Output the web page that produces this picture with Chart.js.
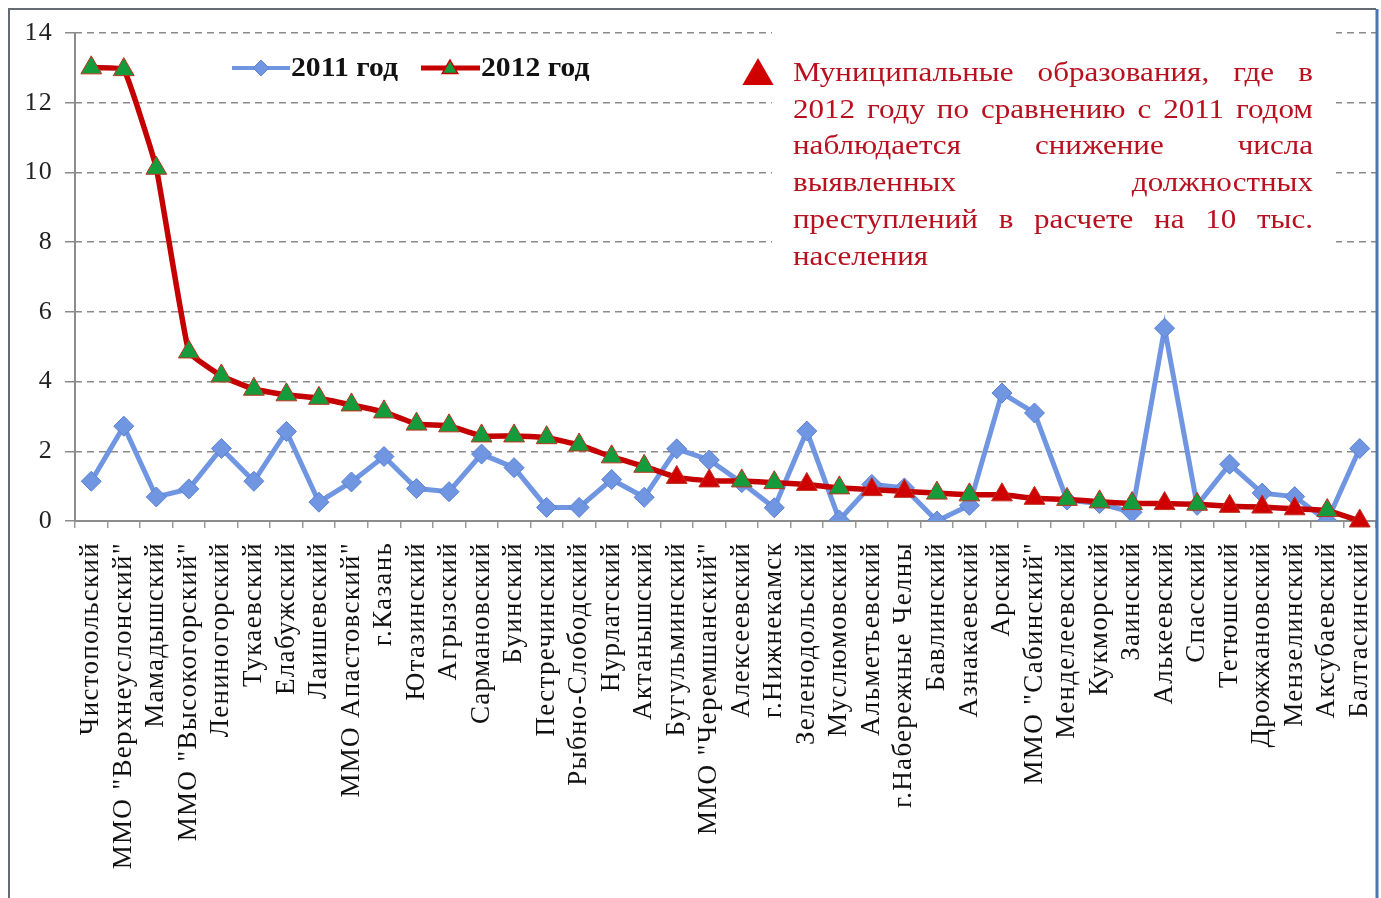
<!DOCTYPE html>
<html>
<head>
<meta charset="utf-8">
<script src="https://cdn.jsdelivr.net/npm/chart.js@4.4.1/dist/chart.umd.min.js"></script>
<style>
  html, body { margin: 0; padding: 0; background: #fff; }
  #wrap { width: 1381px; height: 898px; position: relative; }
</style>
</head>
<body>
<div id="wrap"><canvas id="crimeChart"></canvas></div>
<script>
const districts = [
    'Чистопольский', 'ММО "Верхнеуслонский"', 'Мамадышский', 'ММО "Высокогорский"', 'Лениногорский',
    'Тукаевский', 'Елабужский', 'Лаишевский', 'ММО Апастовский"', 'г.Казань',
    'Ютазинский', 'Агрызский', 'Сармановский', 'Буинский', 'Пестречинский',
    'Рыбно-Слободский', 'Нурлатский', 'Актанышский', 'Бугульминский', 'ММО "Черемшанский"',
    'Алексеевский', 'г.Нижнекамск', 'Зеленодольский', 'Муслюмовский', 'Альметьевский',
    'г.Набережные Челны', 'Бавлинский', 'Азнакаевский', 'Арский', 'ММО "Сабинский"',
    'Менделеевский', 'Кукморский', 'Заинский', 'Алькеевский', 'Спасский',
    'Тетюшский', 'Дрожжановский', 'Мензелинский', 'Аксубаевский', 'Балтасинский'
];

const year2011 = [
    1.14, 2.72, 0.69, 0.92, 2.08, 1.14, 2.57, 0.54, 1.12, 1.85,
    0.93, 0.84, 1.92, 1.53, 0.39, 0.39, 1.19, 0.68, 2.07, 1.75,
    1.1, 0.38, 2.58, 0.03, 1.05, 0.95, 0.0, 0.45, 3.67, 3.1,
    0.6, 0.5, 0.25, 5.53, 0.45, 1.63, 0.8, 0.7, 0.0, 2.08
];

const year2012 = [
    13.0, 12.95, 10.12, 4.85, 4.16, 3.78, 3.62, 3.52, 3.33, 3.13,
    2.78, 2.73, 2.44, 2.44, 2.39, 2.18, 1.84, 1.57, 1.25, 1.15,
    1.15, 1.1, 1.05, 0.95, 0.9, 0.85, 0.8, 0.75, 0.75, 0.65,
    0.62, 0.55, 0.5, 0.5, 0.48, 0.42, 0.4, 0.35, 0.3, 0.0
];

const yTicks = [0, 2, 4, 6, 8, 10, 12, 14];

const seriesNames = ['2011 год', '2012 год'];

const noteLines = [
    'Муниципальные образования, где в',
    '2012 году по сравнению с 2011 годом',
    'наблюдается снижение числа',
    'выявленных должностных',
    'преступлений в расчете на 10 тыс.',
    'населения'
];

const blue = '#7096e2';
const blueDark = '#5b80d6';
const red = '#c40000';
const green = '#159b3c';
const noteRed = '#b8101e';
const serif = "'Liberation Serif', 'Times New Roman', serif";

// red triangle where 2012 dropped below 2011
let triColors = year2012.map((v, i) => v < year2011[i] ? '#d00000' : green);

let drawJustified = (ctx, text, x, y, width, justify) => {
    let words = text.split(' ');
    if (!justify || words.length < 2) {
        ctx.fillText(text, x, y);
        return;
    }
    let total = words.reduce((s, w) => s + ctx.measureText(w).width, 0);
    let gap = (width - total) / (words.length - 1);
    let cx = x;
    words.forEach(w => {
        ctx.fillText(w, cx, y);
        cx += ctx.measureText(w).width + gap;
    });
}

let drawTriangle = (ctx, x, y, r, fill, stroke) => {
    ctx.beginPath();
    ctx.moveTo(x, y - r);
    ctx.lineTo(x + r * 0.866, y + r * 0.5);
    ctx.lineTo(x - r * 0.866, y + r * 0.5);
    ctx.closePath();
    ctx.fillStyle = fill;
    ctx.fill();
    if (stroke) {
        ctx.strokeStyle = stroke;
        ctx.lineWidth = 1.5;
        ctx.stroke();
    }
}

const decor = {
    id: 'decor',
    beforeDraw(chart) {
        let ctx = chart.ctx;
        ctx.save();
        ctx.fillStyle = '#fff';
        ctx.fillRect(0, 0, chart.width, chart.height);
        ctx.restore();
    },
    beforeDatasetsDraw(chart) {
        let ctx = chart.ctx;
        let area = chart.chartArea;
        ctx.save();
        // the note box hides the grid behind it
        ctx.fillStyle = '#fff';
        ctx.fillRect(772, 24, 564, 266);
        // solid y axis line
        ctx.strokeStyle = '#8c8c8c';
        ctx.lineWidth = 2;
        ctx.beginPath();
        ctx.moveTo(area.left, area.top);
        ctx.lineTo(area.left, area.bottom);
        ctx.stroke();
        ctx.restore();
    },
    afterDraw(chart) {
        let ctx = chart.ctx;
        ctx.save();
        ctx.letterSpacing = '0px';

        // frame
        ctx.lineWidth = 2;
        ctx.strokeStyle = '#656b73';
        ctx.beginPath();
        ctx.moveTo(9, 898);
        ctx.lineTo(9, 9);
        ctx.lineTo(1376, 9);
        ctx.stroke();
        ctx.strokeStyle = '#4e74b2';
        ctx.lineWidth = 3;
        ctx.beginPath();
        ctx.moveTo(1377, 9);
        ctx.lineTo(1377, 898);
        ctx.stroke();

        // legend
        let ly = 68;
        ctx.strokeStyle = blue;
        ctx.lineWidth = 4;
        ctx.beginPath();
        ctx.moveTo(232, ly);
        ctx.lineTo(290, ly);
        ctx.stroke();
        ctx.beginPath();
        ctx.moveTo(261, ly - 8);
        ctx.lineTo(269, ly);
        ctx.lineTo(261, ly + 8);
        ctx.lineTo(253, ly);
        ctx.closePath();
        ctx.fillStyle = blue;
        ctx.fill();
        ctx.strokeStyle = blueDark;
        ctx.lineWidth = 1;
        ctx.stroke();

        ctx.strokeStyle = red;
        ctx.lineWidth = 5;
        ctx.beginPath();
        ctx.moveTo(421, ly);
        ctx.lineTo(480, ly);
        ctx.stroke();
        drawTriangle(ctx, 450, ly + 1, 9, green, red);

        ctx.font = 'bold 27px ' + serif;
        ctx.textBaseline = 'middle';
        ctx.fillStyle = '#111';
        [[291, seriesNames[0]], [481, seriesNames[1]]].forEach(([x, t]) => {
            ctx.save();
            ctx.translate(x, ly + 1);
            ctx.scale(1.1, 1);
            ctx.fillText(t, 0, 0);
            ctx.restore();
        });

        // note
        drawTriangle(ctx, 758, 76, 18, '#d00000', null);
        ctx.font = '27px ' + serif;
        ctx.fillStyle = noteRed;
        let sx = 1.15;
        ctx.save();
        ctx.translate(793, 0);
        ctx.scale(sx, 1);
        noteLines.forEach((line, i) => {
            drawJustified(ctx, line, 0, 74 + i * 36.7, 520 / sx, i < noteLines.length - 1);
        });
        ctx.restore();

        ctx.restore();
    }
};

// slightly wider axis lettering, like the original picture
const spacing = {
    id: 'spacing',
    beforeInit(chart) { chart.ctx.letterSpacing = '1.3px'; },
    beforeDraw(chart) { chart.ctx.letterSpacing = '1.3px'; }
};

var ctx = document.getElementById('crimeChart').getContext('2d');
var myChart = new Chart(ctx, {
    type: 'line',
    data: {
        labels: districts,
        datasets: [{
            label: seriesNames[0],
            data: year2011,
            borderColor: blue,
            borderWidth: 5,
            backgroundColor: blue,
            pointStyle: 'rectRot',
            pointRadius: 10,
            pointBackgroundColor: blue,
            pointBorderColor: blueDark,
            pointBorderWidth: 1,
            tension: 0,
            order: 2
        }, {
            label: seriesNames[1],
            data: year2012,
            borderColor: red,
            borderWidth: 5.5,
            backgroundColor: red,
            pointStyle: 'triangle',
            pointRadius: 12,
            pointBackgroundColor: triColors,
            pointBorderColor: '#c03020',
            pointBorderWidth: 1,
            tension: 0.1,
            clip: false,
            order: 1
        }]
    },
    options: {
        responsive: true,
        maintainAspectRatio: false,
        animation: false,
        layout: { autoPadding: false, padding: { top: 33, right: 5, left: 0, bottom: 0 } },
        plugins: {
            legend: { display: false },
            tooltip: { enabled: false }
        },
        scales: {
            x: {
                offset: true,
                afterFit: (scale) => {
                    scale.height = 377;
                    scale.paddingLeft = 0;
                    scale.paddingRight = 0;
                },
                grid: {
                    offset: true,
                    drawOnChartArea: false,
                    tickLength: 7,
                    color: '#9a9a9a',
                    lineWidth: 1.5
                },
                border: { display: true, color: '#8c8c8c', width: 2 },
                ticks: {
                    autoSkip: false,
                    maxRotation: 90,
                    minRotation: 90,
                    padding: 14,
                    color: '#111',
                    font: { family: serif, size: 27 }
                }
            },
            y: {
                min: 0,
                max: 14,
                afterFit: (scale) => { scale.width = 75; },
                afterBuildTicks: (scale) => { scale.ticks = yTicks.map(v => ({ value: v })); },
                grid: {
                    color: (c) => c.tick && c.tick.value === 0 ? 'rgba(0,0,0,0)' : '#8a8a8a',
                    lineWidth: 1.5,
                    tickLength: 10,
                    tickColor: '#8a8a8a'
                },
                border: { display: false, dash: [7, 5] },
                ticks: {
                    padding: 12,
                    color: '#222',
                    font: { family: serif, size: 26 }
                }
            }
        }
    },
    plugins: [spacing, decor]
});
</script>
</body>
</html>
